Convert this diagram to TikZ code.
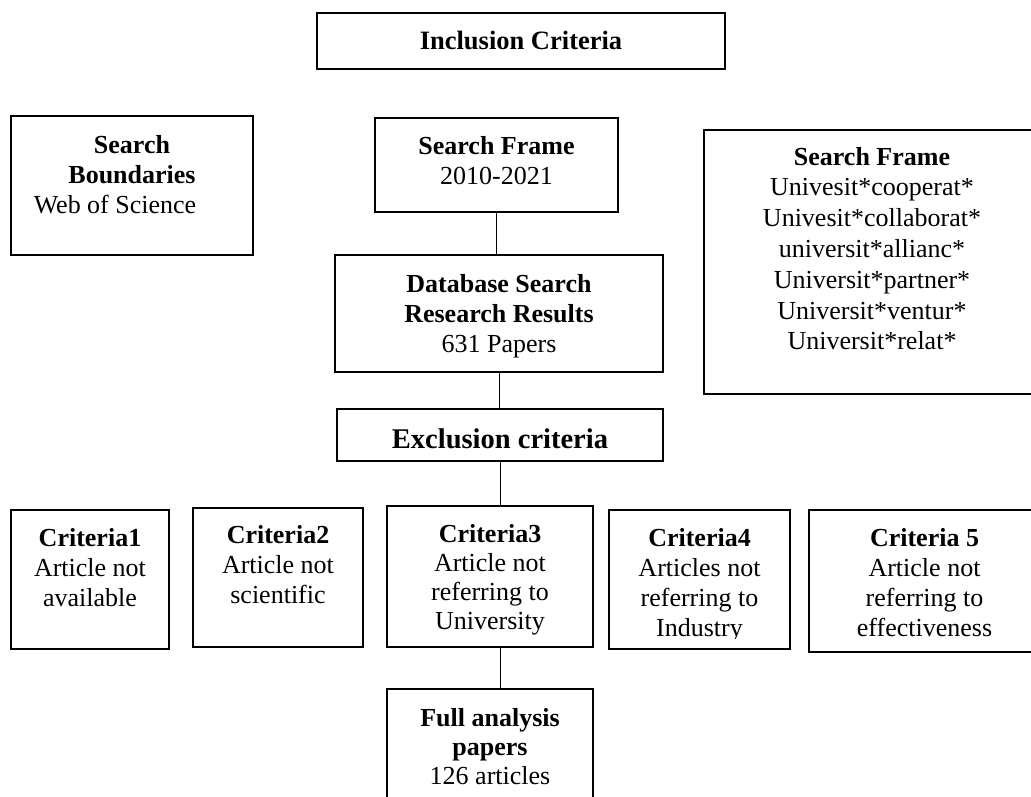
\documentclass[tikz,border=0pt]{standalone}
\usepackage{fontspec}
\setmainfont{Liberation Serif}
\begin{document}
\begin{tikzpicture}[x=1pt,y=-1pt,
  box/.style={draw=black, line width=2pt, rectangle, inner sep=0pt},
  conn/.style={draw=black, line width=1pt},
  txt/.style={inner sep=0pt, align=center, anchor=north, font=\fontsize{26}{30}\selectfont},
  txtn/.style={inner sep=0pt, align=center, anchor=north, font=\fontsize{26}{29}\selectfont},
  txtw/.style={inner sep=0pt, align=center, anchor=north, font=\fontsize{26}{30.8}\selectfont},
  txtone/.style={inner sep=0pt, anchor=base}]
\useasboundingbox (0,0) rectangle (1031,797);
\clip (0,0) rectangle (1031,797);

% boxes
\node[box, minimum width=408pt, minimum height=56pt] (incl) at (521,41) {};
\node[box, minimum width=242pt, minimum height=139pt] (bound) at (132,185.5) {};
\node[box, minimum width=243pt, minimum height=94pt] (sf1) at (496.5,165) {};
\node[box, minimum width=328pt, minimum height=117pt] (db) at (499,313.5) {};
\node[box, minimum width=336pt, minimum height=264pt] (sf2) at (872,262) {};
\node[box, minimum width=326pt, minimum height=52pt] (excl) at (500,435) {};
\node[box, minimum width=158pt, minimum height=139pt] (c1) at (90,579.5) {};
\node[box, minimum width=170pt, minimum height=139pt] (c2) at (278,577.5) {};
\node[box, minimum width=206pt, minimum height=141pt] (c3) at (490,576.5) {};
\node[box, minimum width=181pt, minimum height=139pt] (c4) at (699.5,579.5) {};
\node[box, minimum width=231pt, minimum height=142pt] (c5) at (924.5,581) {};
\node[box, minimum width=206pt, minimum height=131pt] (full) at (490,754.5) {};

% texts
\node[txtone, font=\fontsize{26.5}{30}\selectfont\bfseries] (incl-t) at (521,50) {Inclusion Criteria};
\node[txt] (bound-t) at (132,132) {\strut\textbf{Search}\\\textbf{Boundaries}\\Web of Science\hspace*{34pt}};
\node[txt] (sf1-t) at (496.5,133) {\strut\textbf{Search Frame}\\2010-2021};
\node[txt] (db-t) at (499,271) {\strut\textbf{Database Search}\\\textbf{Research Results}\\631 Papers};
\node[txtw] (sf2-t) at (872,143.4) {\strut\textbf{Search Frame}\\Univesit*cooperat*\\Univesit*collaborat*\\universit*allianc*\\Universit*partner*\\Universit*ventur*\\Universit*relat*};
\node[txtone, font=\fontsize{28.5}{32}\selectfont\bfseries] (excl-t) at (500,448) {Exclusion criteria};
\node[txt] (c1-t) at (90,525) {\strut\textbf{Criteria1}\\Article not\\available};
\node[txt] (c2-t) at (278,522.5) {\strut\textbf{Criteria2}\\Article not\\scientific};
\node[txtn] (c3-t) at (490,522) {\strut\textbf{Criteria3}\\Article not\\referring to\\University};
\begin{scope}
  \clip (600,500) rectangle (800,638.5);
  \node[txt] (c4-t) at (699.5,525) {\strut\textbf{Criteria4}\\Articles not\\referring to\\Industry};
\end{scope}
\node[txt] (c5-t) at (924.5,525.5) {\strut\textbf{Criteria 5}\\Article not\\referring to\\effectiveness};
\node[txtn] (full-t) at (490,705.7) {\strut\textbf{Full analysis}\\\textbf{papers}\\126 articles};

% connectors
\draw[conn] (sf1.south) -- (sf1.south |- db.north);
\draw[conn] (db.south) -- (db.south |- excl.north);
\draw[conn] (excl.south) -- (excl.south |- c3.north);
\draw[conn] (excl.south |- c3.south) -- (excl.south |- full.north);
\end{tikzpicture}
\end{document}
